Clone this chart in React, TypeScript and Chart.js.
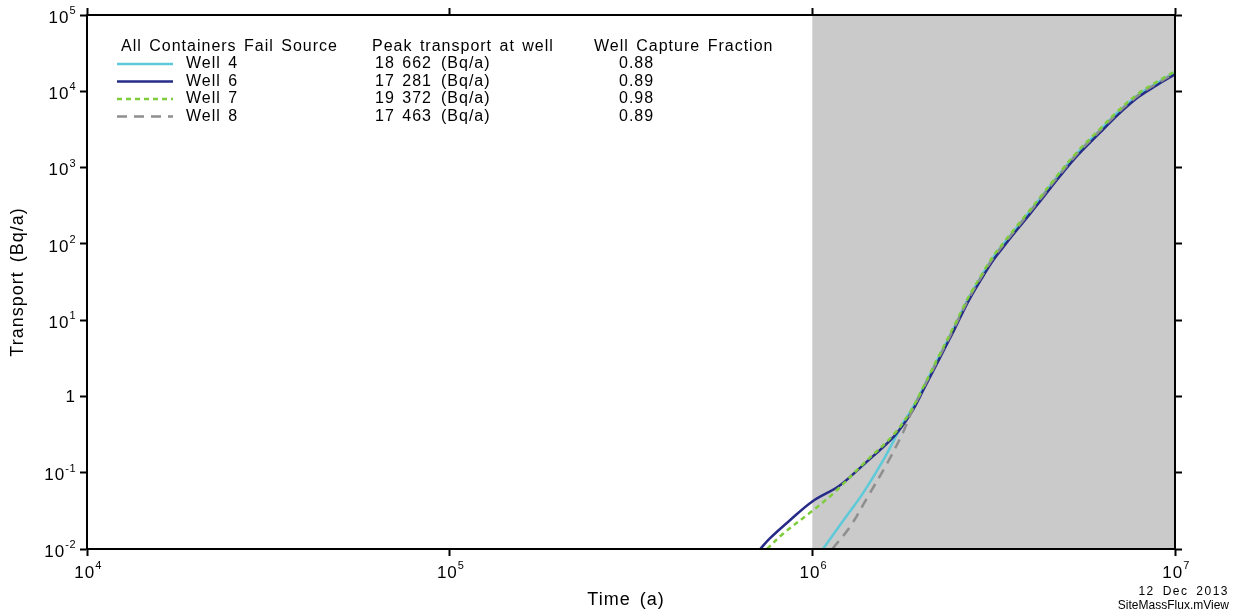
import { useEffect, useRef } from "react";
import { Chart, registerables } from "chart.js";

Chart.register(...registerables);

// ---------------- data ----------------
const wellNames = ["Well 4", "Well 6", "Well 7", "Well 8"];
const peakTransport = [18662, 17281, 19372, 17463];
const captureFraction = ["0.88", "0.89", "0.98", "0.89"];
const legendHeader = ["All Containers Fail Source", "Peak transport at well", "Well Capture Fraction"];
const xTickExponents = [4, 5, 6, 7];
const yTickExponents = [-2, -1, 0, 1, 2, 3, 4, 5];
const shadedRange = [1e6, 1e7];
const dateStamp = "12 Dec 2013";
const fileStamp = "SiteMassFlux.mView";

// Well 4 (cyan)
const well4Time = [1.07e6, 1.22e6, 1.38e6, 1.57e6, 1.78e6, 1.87e6, 2.03e6, 2.24e6, 2.46e6, 2.69e6, 2.97e6, 3.16e6, 3.46e6, 3.8e6, 4.27e6, 4.79e6, 5.37e6, 6.17e6, 6.97e6, 7.94e6, 8.91e6, 1e7];
const well4Value = [0.01, 0.024, 0.054, 0.147, 0.45, 0.65, 1.34, 3.37, 8.0, 19.0, 42.5, 67, 117, 204, 405, 810, 1540, 3000, 5350, 9080, 12850, 17700];
// Well 6 (navy)
const well6Time = [7.18e5, 7.66e5, 8.69e5, 1e6, 1.19e6, 1.38e6, 1.68e6, 1.87e6, 2.03e6, 2.24e6, 2.46e6, 2.69e6, 2.97e6, 3.16e6, 3.46e6, 3.8e6, 4.27e6, 4.79e6, 5.37e6, 6.17e6, 6.97e6, 7.94e6, 8.91e6, 1e7];
const well6Value = [0.01, 0.014, 0.024, 0.042, 0.068, 0.126, 0.30, 0.6, 1.25, 3.1, 7.4, 17.5, 39, 62, 108, 188, 372, 745, 1420, 2780, 4950, 8450, 12000, 16700];
// Well 7 (green dotted)
const well7Time = [7.5e5, 8.32e5, 9.86e5, 1.14e6, 1.38e6, 1.68e6, 1.87e6, 2.03e6, 2.24e6, 2.46e6, 2.69e6, 2.97e6, 3.16e6, 3.46e6, 3.8e6, 4.27e6, 4.79e6, 5.37e6, 6.17e6, 6.97e6, 7.94e6, 8.91e6, 1e7];
const well7Value = [0.01, 0.016, 0.03, 0.053, 0.13, 0.32, 0.65, 1.38, 3.5, 8.4, 19.7, 44, 70, 122, 212, 420, 840, 1600, 3120, 5550, 9400, 13300, 18300];
// Well 8 (grey dashed)
const well8Time = [1.135e6, 1.27e6, 1.42e6, 1.61e6, 1.78e6, 1.87e6, 2.03e6, 2.24e6, 2.46e6, 2.69e6, 2.97e6, 3.16e6, 3.46e6, 3.8e6, 4.27e6, 4.79e6, 5.37e6, 6.17e6, 6.97e6, 7.94e6, 8.91e6, 1e7];
const well8Value = [0.01, 0.0195, 0.048, 0.134, 0.34, 0.6, 1.32, 3.3, 7.9, 18.6, 41.7, 66, 115, 200, 398, 794, 1510, 2950, 5250, 8910, 12600, 17400];

// ---------------- styles ----------------
const FONT = "'Liberation Sans', Arial, sans-serif";
const wellStyles = [
  { color: "#5ec9d8", dash: [] as number[], width: 2.5 },
  { color: "#262b88", dash: [] as number[], width: 2.5 },
  { color: "#7fcc3c", dash: [5, 4], width: 2.5 },
  { color: "#8e8e8e", dash: [10, 7], width: 2.5 },
];

const series = [
  { t: well4Time, v: well4Value },
  { t: well6Time, v: well6Value },
  { t: well7Time, v: well7Value },
  { t: well8Time, v: well8Value },
];

function fmtThousands(n: number) {
  const th = Math.floor(n / 1000);
  const rest = String(n % 1000).padStart(3, "0");
  return `${th} ${rest}`;
}

function setFont(ctx: CanvasRenderingContext2D, size: number, ls = "0px", ws = "0px") {
  ctx.font = `${size}px ${FONT}`;
  (ctx as any).letterSpacing = ls;
  (ctx as any).wordSpacing = ws;
}

function drawPow(ctx: CanvasRenderingContext2D, e: number, x: number, y: number, align: "right" | "center") {
  ctx.textAlign = "left";
  ctx.textBaseline = "middle";
  if (e === 0) {
    setFont(ctx, 17, "1px");
    const w = ctx.measureText("1").width;
    const x0 = align === "right" ? x - w : x - w / 2;
    ctx.fillText("1", x0, y + 1);
    return;
  }
  setFont(ctx, 17, "1px");
  const bw = ctx.measureText("10").width;
  setFont(ctx, 11, "0.5px");
  const exp = String(e);
  const ew = ctx.measureText(exp).width;
  const total = bw + ew;
  const x0 = align === "right" ? x - total : x - total / 2;
  setFont(ctx, 17, "1px");
  ctx.fillText("10", x0, y + 3);
  setFont(ctx, 11, "0.5px");
  ctx.fillText(exp, x0 + bw, y - 4);
}

const decoPlugin = {
  id: "deco",
  beforeDraw(chart: any) {
    const { ctx, chartArea } = chart;
    const xs = chart.scales.x;
    const x0 = xs.getPixelForValue(shadedRange[0]);
    const x1 = xs.getPixelForValue(shadedRange[1]);
    ctx.save();
    ctx.fillStyle = "#cacaca";
    ctx.fillRect(x0, chartArea.top, x1 - x0, chartArea.bottom - chartArea.top);
    ctx.restore();
  },
  afterDraw(chart: any) {
    const ctx: CanvasRenderingContext2D = chart.ctx;
    const xs = chart.scales.x;
    const ys = chart.scales.y;
    ctx.save();
    ctx.fillStyle = "#000";

    // tick labels
    for (const e of yTickExponents) {
      drawPow(ctx, e, 76, ys.getPixelForValue(Math.pow(10, e)), "right");
    }
    for (const e of xTickExponents) {
      drawPow(ctx, e, xs.getPixelForValue(Math.pow(10, e)) + 1, 570, "center");
    }

    // axis titles
    ctx.textBaseline = "middle";
    ctx.textAlign = "center";
    setFont(ctx, 18, "1px", "3px");
    ctx.fillText("Time (a)", 626, 600);
    ctx.save();
    ctx.translate(18, 282);
    ctx.rotate(-Math.PI / 2);
    ctx.fillText("Transport (Bq/a)", 0, 0);
    ctx.restore();

    // stamp
    ctx.textAlign = "right";
    setFont(ctx, 12, "1.5px", "3px");
    ctx.fillText(dateStamp, 1229, 592);
    setFont(ctx, 12, "0px", "0px");
    ctx.fillText(fileStamp, 1229, 606);

    // legend block
    ctx.textAlign = "left";
    setFont(ctx, 16, "1px", "2px");
    const headerY = 47;
    ctx.fillText(legendHeader[0], 121, headerY);
    ctx.fillText(legendHeader[1], 372, headerY);
    ctx.fillText(legendHeader[2], 594, headerY);
    const rowY = [64, 81.5, 99, 116.5];
    wellNames.forEach((name, i) => {
      const y = rowY[i];
      const st = wellStyles[i];
      ctx.save();
      ctx.strokeStyle = st.color;
      ctx.lineWidth = st.width;
      ctx.setLineDash(st.dash);
      ctx.beginPath();
      ctx.moveTo(117, y);
      ctx.lineTo(173, y);
      ctx.stroke();
      ctx.restore();
      setFont(ctx, 16, "1px", "2px");
      ctx.textAlign = "left";
      ctx.fillText(name, 186, y);
      ctx.textAlign = "right";
      ctx.fillText(fmtThousands(peakTransport[i]), 432, y);
      ctx.textAlign = "left";
      ctx.fillText("(Bq/a)", 441, y);
      ctx.fillText(captureFraction[i], 619, y);
    });
    ctx.restore();
  },
};

function decadeTicks(exps: number[]) {
  return (scale: any) => {
    scale.ticks = exps.map((e) => ({ value: Math.pow(10, e) }));
  };
}

function axis(position: string, axisDir: string, min: number, max: number, exps: number[], size: number) {
  return {
    type: "logarithmic" as const,
    axis: axisDir,
    position,
    min,
    max,
    ticks: { display: false },
    grid: {
      display: true,
      drawOnChartArea: false,
      drawTicks: true,
      tickLength: 7,
      tickWidth: 2,
      tickColor: "#000",
    },
    border: { display: true, color: "#000", width: 2, z: 1 },
    afterBuildTicks: decadeTicks(exps),
    afterFit: (scale: any) => {
      if (axisDir === "x") scale.height = size;
      else scale.width = size;
    },
  };
}

export default function App() {
  const ref = useRef<HTMLCanvasElement>(null);
  useEffect(() => {
    const canvas = ref.current!;
    const datasets = series.map((s, i) => ({
      label: wellNames[i],
      data: s.t.map((t, k) => ({ x: t, y: s.v[k] })),
      borderColor: wellStyles[i].color,
      backgroundColor: wellStyles[i].color,
      borderWidth: wellStyles[i].width,
      borderDash: wellStyles[i].dash,
      pointRadius: 0,
      fill: false,
      tension: 0.35,
      order: [3, 2, 0, 1][i],
    }));
    const xmin = Math.pow(10, xTickExponents[0]);
    const xmax = Math.pow(10, xTickExponents[xTickExponents.length - 1]);
    const ymin = Math.pow(10, yTickExponents[0]);
    const ymax = Math.pow(10, yTickExponents[yTickExponents.length - 1]);
    const chart = new Chart(canvas, {
      type: "line",
      data: { datasets },
      options: {
        animation: false,
        responsive: false,
        devicePixelRatio: 1,
        layout: { padding: 0 },
        plugins: { legend: { display: false }, tooltip: { enabled: false }, title: { display: false } },
        scales: {
          x: axis("bottom", "x", xmin, xmax, xTickExponents, 64),
          x2: axis("top", "x", xmin, xmax, xTickExponents, 15),
          y: axis("left", "y", ymin, ymax, yTickExponents, 87),
          y2: axis("right", "y", ymin, ymax, yTickExponents, 58),
        } as any,
      },
      plugins: [decoPlugin as any],
    });
    return () => chart.destroy();
  }, []);
  return (
    <div style={{ position: "absolute", left: 0, top: 0, width: 1233, height: 613, background: "#fff" }}>
      <canvas ref={ref} width={1233} height={613} style={{ display: "block", width: 1233, height: 613 }} />
    </div>
  );
}
